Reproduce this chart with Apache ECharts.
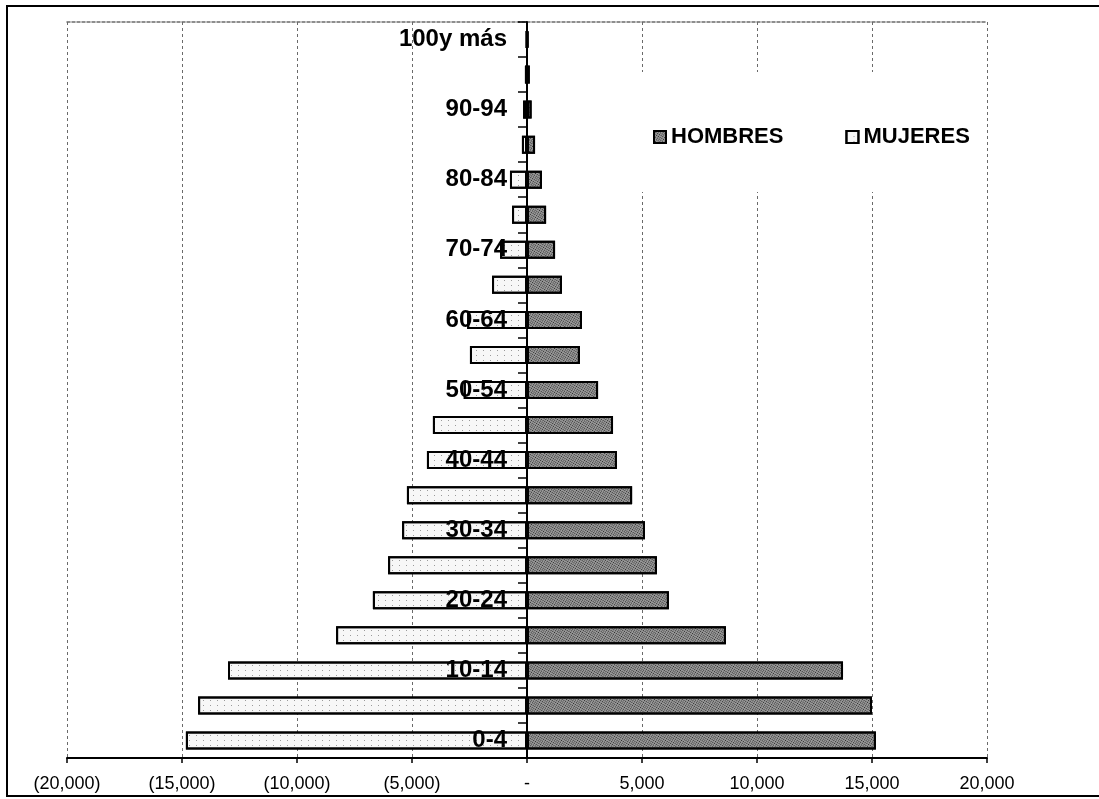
<!DOCTYPE html>
<html>
<head>
<meta charset="utf-8">
<script src="https://cdn.jsdelivr.net/npm/echarts@6/dist/echarts.min.js"></script>
<style>
  html, body { margin: 0; padding: 0; background: #fff; }
  #chart { width: 1099px; height: 799px; }
</style>
</head>
<body>
<div id="chart"></div>
<script>
// Age groups, youngest at the bottom
const ageGroups = ['0-4', '5-9', '10-14', '15-19', '20-24', '25-29', '30-34', '35-39',
  '40-44', '45-49', '50-54', '55-59', '60-64', '65-69', '70-74', '75-79', '80-84',
  '85-89', '90-94', '95-99', '100y más'];

// Population by age group
const hombres = [15170, 15000, 13740, 8650, 6170, 5650, 5130, 4570, 3910, 3740,
  3090, 2300, 2390, 1520, 1220, 830, 650, 350, 200, 120, 60];
const mujeres = [14830, 14300, 13000, 8300, 6700, 6040, 5430, 5220, 4350, 4090,
  2750, 2480, 2600, 1520, 1170, 650, 740, 220, 170, 90, 40];

const seriesNames = ['HOMBRES', 'MUJERES'];
const axisMin = -20000, axisMax = 20000, axisStep = 5000;

const FONT = '"Liberation Sans", Arial, sans-serif';

const GRID = { left: 67, right: 112, top: 22, bottom: 41 };
const CHART_W = 1099;
// the category axis sits where the value axis crosses zero
const plotW = CHART_W - GRID.left - GRID.right;
const zeroOffset = -plotW * (0 - axisMin) / (axisMax - axisMin);

function fmtAccounting(v) {
  if (v === 0) return '-';
  const s = Math.abs(v).toLocaleString('en-US');
  return v < 0 ? '(' + s + ')' : s;
}

const chart = echarts.init(document.getElementById('chart'));
chart.setOption({
  backgroundColor: '#fff',
  animation: false,
  aria: { enabled: true, decal: { show: true } },
  grid: Object.assign({ containLabel: false, outerBoundsMode: 'none' }, GRID),
  graphic: [{
    type: 'rect',
    shape: { x: 7, y: 6, width: 1100, height: 790 },
    style: { fill: 'none', stroke: '#000', lineWidth: 2 },
    silent: true
  }],
  legend: {
    data: seriesNames,
    left: 635,
    top: 72,
    orient: 'horizontal',
    backgroundColor: '#fff',
    padding: [54, 12, 44, 18],
    itemWidth: 12,
    itemHeight: 12,
    itemGap: 62,
    icon: 'rect',
    textStyle: { fontFamily: FONT, fontWeight: 'bold', fontSize: 22, color: '#000' }
  },
  xAxis: [{
    type: 'value',
    min: axisMin,
    max: axisMax,
    interval: axisStep,
    position: 'bottom',
    axisLine: { show: true, lineStyle: { color: '#000', width: 2 } },
    axisTick: { show: true, length: 5, lineStyle: { color: '#000', width: 1.5 } },
    axisLabel: {
      formatter: fmtAccounting,
      fontFamily: FONT,
      fontSize: 18,
      color: '#000',
      margin: 17
    },
    splitLine: { show: true, lineStyle: { color: '#6a6a6a', type: [3, 3], width: 1 } }
  }, {
    type: 'value',
    min: axisMin,
    max: axisMax,
    interval: axisStep,
    position: 'top',
    axisLine: { show: true, lineStyle: { color: '#6a6a6a', type: [3, 2], width: 1.5 } },
    axisTick: { show: false },
    axisLabel: { show: false },
    splitLine: { show: false }
  }],
  yAxis: {
    type: 'category',
    data: ageGroups,
    z: 6,
    position: 'left',
    offset: zeroOffset,
    axisLine: { show: true, onZero: false, lineStyle: { color: '#000', width: 2 } },
    axisTick: { show: true, interval: 0, length: 9, lineStyle: { color: '#000', width: 1.5 } },
    axisLabel: {
      interval: 1,
      margin: 20,
      fontFamily: FONT,
      fontWeight: 'bold',
      fontSize: 24,
      color: '#000'
    },
    splitLine: { show: false }
  },
  series: [{
    name: seriesNames[0],
    type: 'bar',
    xAxisIndex: 0,
    data: hombres,
    barWidth: 18,
    barGap: '-100%',
    itemStyle: {
      color: '#9c9c9c',
      borderColor: '#000',
      borderWidth: 2,
      decal: {
        symbol: 'rect',
        symbolSize: 1,
        dashArrayX: [1, 1],
        dashArrayY: [1, 1],
        color: '#262626'
      }
    }
  }, {
    name: seriesNames[1],
    type: 'bar',
    xAxisIndex: 0,
    data: mujeres.map(v => -v),
    barWidth: 18,
    barGap: '-100%',
    itemStyle: {
      color: '#f7f7f7',
      borderColor: '#000',
      borderWidth: 2,
      decal: {
        symbol: 'rect',
        symbolSize: 1,
        dashArrayX: [1, 6],
        dashArrayY: [1, 4],
        color: '#9a9a9a'
      }
    }
  }]
});
</script>
</body>
</html>
